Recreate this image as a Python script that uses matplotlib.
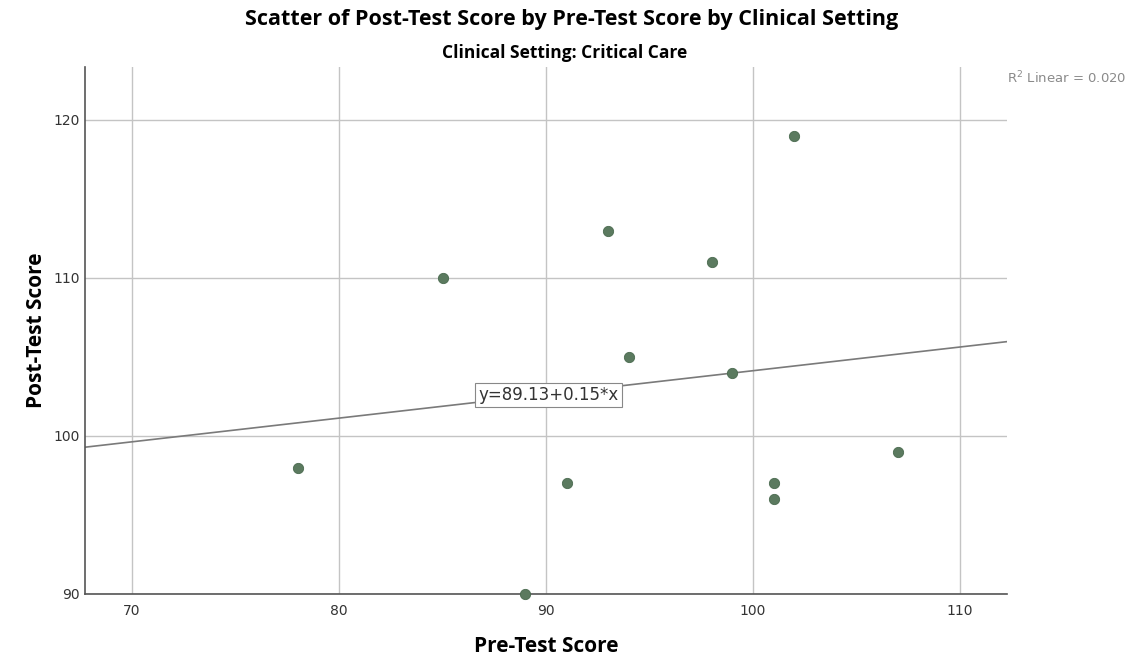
import matplotlib.pyplot as plt

# Puntajes pre/post test, grupo Critical Care
pre_test = [78, 85, 89, 91, 93, 94, 98, 99, 101, 101, 102, 107]
post_test = [98, 110, 90, 97, 113, 105, 111, 104, 97, 96, 119, 99]

# Recta de ajuste lineal y R2
intercepto = 89.13
pendiente = 0.15
r2 = 0.020

x_ticks = [70, 80, 90, 100, 110]
y_ticks = [90, 100, 110, 120]

fig = plt.figure(figsize=(11.43, 6.61), dpi=100)
ax = fig.add_axes([0.0744, 0.1014, 0.8066, 0.7972])

ax.set_xlim(67.73, 112.27)
ax.set_ylim(90, 123.35)

ax.grid(True, color="#c4c4c4", linewidth=1)
ax.set_axisbelow(True)
ax.set_xticks(x_ticks)
ax.set_yticks(y_ticks)

ax.scatter(pre_test, post_test, s=55, color="#5b7a5f", edgecolors="#4a6a4f",
           linewidths=0.6, zorder=3, clip_on=False)

x0, x1 = ax.get_xlim()
ax.plot([x0, x1], [intercepto + pendiente * x0, intercepto + pendiente * x1],
        color="#7a7a7a", linewidth=1.2, zorder=2)

ax.text(90.1, 102.6, "y=%.2f+%.2f*x" % (intercepto, pendiente), ha="center", va="center",
        fontsize=12, color="#333333", family="DejaVu Sans",
        bbox=dict(boxstyle="square,pad=0.2", facecolor="white", edgecolor="#888888", linewidth=0.8),
        zorder=4)

for lado in ["top", "right"]:
    ax.spines[lado].set_visible(False)
for lado in ["left", "bottom"]:
    ax.spines[lado].set_color("#555555")
    ax.spines[lado].set_linewidth(1.2)

ax.tick_params(axis="x", length=0, labelsize=10, colors="#333333", pad=7)
ax.tick_params(axis="y", length=0, labelsize=10, colors="#333333", pad=4)

fig.text(0.5, 0.971, "Scatter of Post-Test Score by Pre-Test Score by Clinical Setting",
         ha="center", va="center", fontsize=15.5, fontweight="bold", family="Open Sans")
fig.text(0.494, 0.92, "Clinical Setting: Critical Care", ha="center", va="center",
         fontsize=12.5, fontweight="bold", family="Open Sans")
fig.text(0.881, 0.882, "R$^2$ Linear = %.3f" % r2, ha="left", va="center",
         fontsize=9.5, color="#8a8a8a")

ax.set_xlabel("Pre-Test Score", fontsize=15, fontweight="bold", family="Open Sans", labelpad=13)
ax.set_ylabel("Post-Test Score", fontsize=15, fontweight="bold", family="Open Sans", labelpad=4)

fig.savefig("out.png", dpi=100)
